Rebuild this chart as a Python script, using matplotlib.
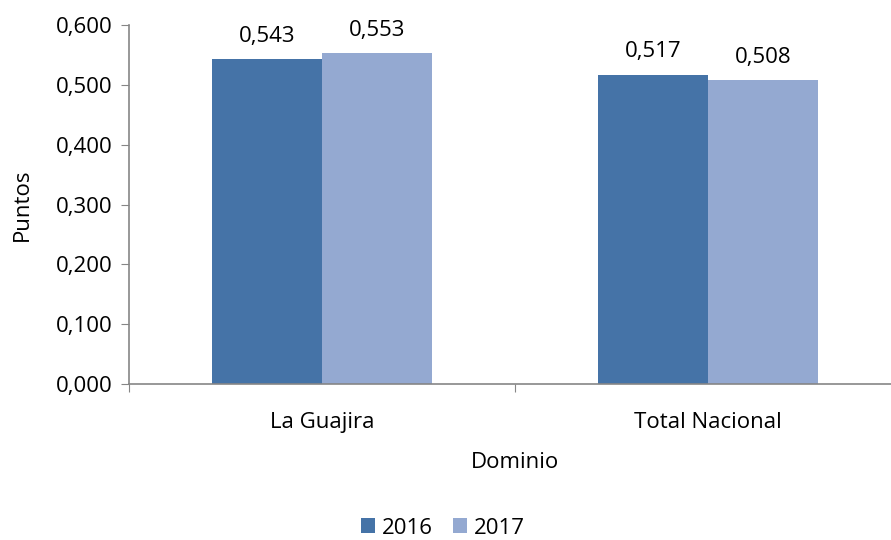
import numpy as np
import matplotlib.pyplot as plt

plt.rcParams['font.family'] = ['Open Sans', 'DejaVu Sans']

categorias = ['La Guajira', 'Total Nacional']
anios = ['2016', '2017']
v2016 = [0.543, 0.517]
v2017 = [0.553, 0.508]
colores = ['#4573a7', '#94a9d1']

fs = 16
fig = plt.figure(figsize=(8.91, 5.40), dpi=100)
# axes right edge sits just past the figure edge, like the original
ax = fig.add_axes([129 / 891, 1 - 384 / 540, 772 / 891, 359 / 540])

x = np.arange(len(categorias))
w = 0.285
gris = '#868686'

for i, (vals, anio) in enumerate(zip([v2016, v2017], anios)):
    pos = x + (i - 0.5) * w
    bars = ax.bar(pos, vals, w, color=colores[i], label=anio, zorder=2)
    for b, v in zip(bars, vals):
        ax.annotate(('%.3f' % v).replace('.', ','),
                    (b.get_x() + b.get_width() / 2, v),
                    xytext=(0, 9), textcoords='offset points',
                    ha='center', va='bottom', fontsize=fs)

ax.set_xlim(-0.5, 1.5)
ax.set_ylim(0, 0.6)
yt = np.arange(0, 0.61, 0.1)
ax.set_yticks(yt)
ax.set_yticklabels([('%.3f' % t).replace('.', ',') for t in yt], fontsize=fs)
# category separators as major ticks, names on minor ticks
ax.set_xticks([-0.5, 0.5, 1.5])
ax.set_xticklabels([])
ax.set_xticks(x, minor=True)
ax.set_xticklabels(categorias, minor=True, fontsize=fs)
ax.tick_params(axis='x', which='minor', length=0, pad=20)
ax.tick_params(axis='x', which='major', length=6, color=gris, direction='out')
ax.tick_params(axis='y', length=6, color=gris, direction='out', pad=6)

for s in ['top', 'right']:
    ax.spines[s].set_visible(False)
for s in ['left', 'bottom']:
    ax.spines[s].set_color(gris)
    ax.spines[s].set_linewidth(1.2)

ax.set_ylabel('Puntos', fontsize=fs)
ax.yaxis.set_label_coords(-(129 - 22) / 772, 0.5)
ax.yaxis.label.set_va('center')
ax.set_xlabel('Dominio', fontsize=fs)
ax.xaxis.set_label_coords((515 - 129) / 772, -(462 - 384) / 359)
ax.xaxis.label.set_va('center')

fig.legend(loc='center', bbox_to_anchor=(443 / 891, 1 - 528 / 540),
           ncol=2, frameon=False, fontsize=fs, handlelength=0.65,
           handleheight=0.65, handletextpad=0.3, columnspacing=0.9)

fig.savefig('out.png', dpi=100)
